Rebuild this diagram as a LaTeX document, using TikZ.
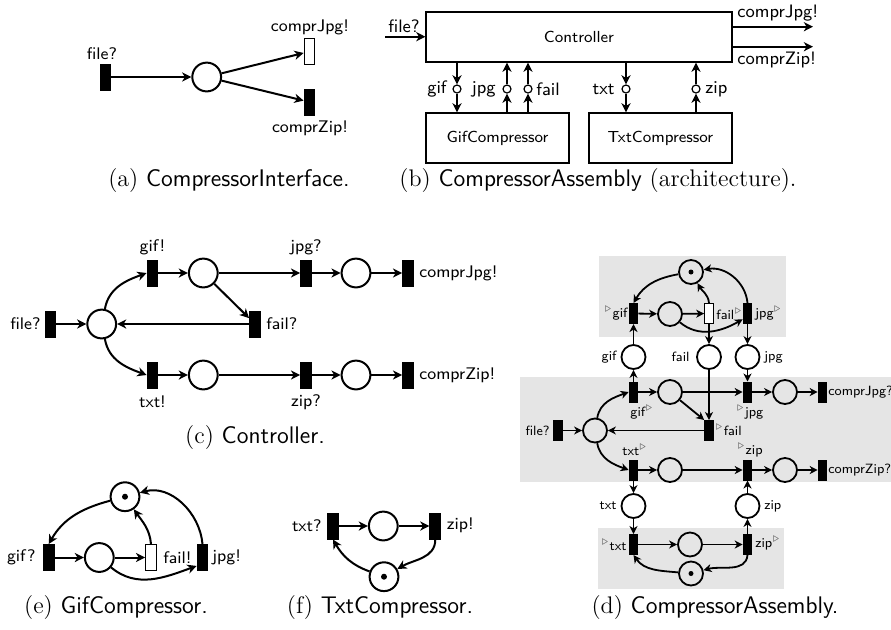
\documentclass[tikz,border=0pt]{standalone}
\usetikzlibrary{arrows.meta,calc}
\newcommand{\trr}{\ensuremath{{}^{\textcolor{black!65}{\scriptscriptstyle\triangleright}}}}
\begin{document}
\begin{tikzpicture}[x=0.5pt,y=0.5pt,
  lab/.style={font=\fontsize{8.4}{10}\selectfont\sffamily, inner sep=0pt},
  blab/.style={font=\fontsize{9}{11}\selectfont\sffamily, inner sep=0pt},
  dlab/.style={font=\fontsize{6.7}{8}\selectfont\sffamily, inner sep=0pt},
  captxt/.style={font=\fontsize{12}{14}\selectfont, inner sep=0pt},
  place/.style={circle, draw, line width=1pt, minimum size=14.4pt, inner sep=0pt},
  dplace/.style={place, line width=0.9pt, minimum size=12pt},
  trans/.style={rectangle, draw, fill=black, line width=0.5pt, minimum width=5.4pt, minimum height=13pt, inner sep=0pt},
  wtrans/.style={trans, fill=white},
  dtrans/.style={trans, minimum width=4.3pt, minimum height=10pt},
  dwtrans/.style={dtrans, fill=white},
  arc/.style={-{Stealth[length=4.6pt,width=4.6pt,inset=1.4pt]}, line width=1pt},
  darc/.style={-{Stealth[length=4pt,width=4pt,inset=1.2pt]}, line width=0.9pt},
  box/.style={rectangle, draw, line width=0.6pt, font=\fontsize{8}{10}\selectfont\sffamily, inner sep=0pt},
  port/.style={circle, draw, line width=0.6pt, minimum size=4pt, inner sep=0pt},
  graybg/.style={fill=black!10},
]
\useasboundingbox (0,0) rectangle (891,-629);

% ---------------- (a)
\node[trans] (aF) at (105.5,-77) {};
\node[lab] (aFl) at (102,-54) {file?};
\node[place] (aP) at (206.7,-77) {};
\node[wtrans] (aJ) at (309.5,-51.5) {};
\node[trans] (aZ) at (309.5,-102) {};
\node[lab] (aJl) at (310,-27) {comprJpg!};
\node[lab] (aZl) at (310,-128) {comprZip!};
\draw[arc] (aF) -- (aP);
\draw[arc] (aP) -- (aJ);
\draw[arc] (aP) -- (aZ);
\node[captxt] (capa) at (229,-181) {(a) \textsf{CompressorInterface.}};

% ---------------- (b)
\node[box, minimum width=153pt, minimum height=25pt] (ctrl) at (579,-37) {Controller};
\node[box, minimum width=71.5pt, minimum height=25pt] (gifc) at (497.5,-138) {GifCompressor};
\node[box, minimum width=71.5pt, minimum height=25pt] (txtc) at (660.5,-138) {TxtCompressor};
\node[port] (pgif) at (457,-89) {};
\node[port] (pjpg) at (507,-89) {};
\node[port] (pfail) at (528,-89) {};
\node[port] (ptxt) at (626,-89) {};
\node[port] (pzip) at (696,-89) {};
\draw[arc] (pgif |- ctrl.south) -- (pgif);
\draw[arc] (pgif) -- (pgif |- gifc.north);
\draw[arc] (pjpg |- gifc.north) -- (pjpg);
\draw[arc] (pjpg) -- (pjpg |- ctrl.south);
\draw[arc] (pfail |- gifc.north) -- (pfail);
\draw[arc] (pfail) -- (pfail |- ctrl.south);
\draw[arc] (ptxt |- ctrl.south) -- (ptxt);
\draw[arc] (ptxt) -- (ptxt |- txtc.north);
\draw[arc] (pzip |- txtc.north) -- (pzip);
\draw[arc] (pzip) -- (pzip |- ctrl.south);
\node[blab, anchor=east] (lgif) at (447,-89) {gif};
\node[blab, anchor=east] (ljpg) at (496,-89) {jpg};
\node[blab, anchor=west] (lfail) at (536,-89) {fail};
\node[blab, anchor=east] (ltxt) at (615,-89) {txt};
\node[blab, anchor=west] (lzip) at (705,-89) {zip};
\coordinate (bin) at (385,-36.7);
\draw[arc] (bin) -- (bin -| ctrl.west);
\node[blab] (bfl) at (404,-26) {file?};
\coordinate (bjo) at (813,-26.7);
\draw[arc] (bjo -| ctrl.east) -- (bjo);
\coordinate (bzo) at (813,-46.7);
\draw[arc] (bzo -| ctrl.east) -- (bzo);
\node[blab, anchor=west] (bjl) at (737,-13) {comprJpg!};
\node[blab, anchor=west] (bzl) at (737,-60) {comprZip!};
\node[captxt] (capb) at (598,-181) {(b) \textsf{CompressorAssembly} (architecture).};

% ---------------- (c)
\node[trans] (cF) at (50.5,-324) {};
\node[lab, anchor=east] (cFl) at (41,-324) {file?};
\node[place] (c0) at (101.7,-324) {};
\node[trans] (cG) at (152.5,-273) {};
\node[lab] (cGl) at (152.5,-247) {gif!};
\node[place] (c1) at (203.3,-273) {};
\node[trans] (cJ) at (306,-273) {};
\node[lab] (cJl) at (306,-247) {jpg?};
\node[place] (c2) at (356,-273) {};
\node[trans] (cCJ) at (408,-273) {};
\node[lab, anchor=west] (cCJl) at (419,-273) {comprJpg!};
\node[trans] (cX) at (255,-324) {};
\node[lab, anchor=west] (cXl) at (266,-324) {fail?};
\node[trans] (cT) at (152.5,-375) {};
\node[lab] (cTl) at (152.5,-402) {txt!};
\node[place] (c3) at (203.3,-375) {};
\node[trans] (cZ) at (306,-375) {};
\node[lab] (cZl) at (306,-402) {zip?};
\node[place] (c4) at (356,-375) {};
\node[trans] (cCZ) at (408,-375) {};
\node[lab, anchor=west] (cCZl) at (419,-375) {comprZip!};
\draw[arc] (cF) -- (c0);
\draw[arc] (c0.78) to[out=80,in=200] (cG.west);
\draw[arc] (cG) -- (c1);
\draw[arc] (c1) -- (cJ);
\draw[arc] (cJ) -- (c2);
\draw[arc] (c2) -- (cCJ);
\draw[arc] (c1) -- (cX.135);
\draw[arc] (cX) -- (c0);
\draw[arc] (c0.-78) to[out=-80,in=160] (cT.west);
\draw[arc] (cT) -- (c3);
\draw[arc] (c3) -- (cZ);
\draw[arc] (cZ) -- (c4);
\draw[arc] (c4) -- (cCZ);
\node[captxt] (capc) at (255,-438) {(c) \textsf{Controller.}};

% ---------------- (d)
\fill[graybg] (599,-256) rectangle (786,-337);
\fill[graybg] (520,-377) rectangle (891,-482);
\fill[graybg] (598,-528) rectangle (784,-589);
% top (gif compressor)
\node[dplace] (dTok1) at (691,-272) {};
\fill (dTok1) circle (1.25pt);
\node[dtrans] (dGifIn) at (633.5,-313.5) {};
\node[dlab, anchor=east] (dGifInl) at (628,-314) {\trr gif};
\node[dplace] (dPa) at (670,-314) {};
\node[dwtrans] (dFailOut) at (709,-313.5) {};
\node[dlab, anchor=west] (dFailOutl) at (716,-314) {fail\trr};
\node[dtrans] (dJpgOut) at (747.5,-313.5) {};
\node[dlab, anchor=west] (dJpgOutl) at (755,-314) {jpg\trr};
% channel places
\node[dplace] (dgif) at (633.5,-357) {};
\node[dlab, anchor=east] (dgifl) at (617,-357) {gif};
\node[dplace] (dfail) at (709,-357) {};
\node[dlab, anchor=east] (dfaill) at (690,-357) {fail};
\node[dplace] (djpg) at (747.5,-357) {};
\node[dlab, anchor=west] (djpgl) at (764,-357) {jpg};
% controller
\node[dtrans] (dGifOut) at (633.5,-392) {};
\node[dlab] (dGifOutl) at (642,-413) {gif\trr};
\node[dplace] (dPc1) at (670,-392) {};
\node[dtrans] (dJpgIn) at (747.5,-392) {};
\node[dlab] (dJpgInl) at (750,-413) {\trr jpg};
\node[dplace] (dPc2) at (785,-392) {};
\node[dtrans] (dCJ) at (822.5,-392) {};
\node[dlab, anchor=west] (dCJl) at (828,-392) {comprJpg?};
\node[dtrans] (dFailIn) at (709,-430.5) {};
\node[dlab, anchor=west] (dFailInl) at (715,-430.5) {\trr fail};
\node[dtrans] (dFile) at (558,-430.5) {};
\node[dlab, anchor=east] (dFilel) at (550,-430.5) {file?};
\node[dplace] (dP0) at (595,-430.5) {};
\node[dtrans] (dTxtOut) at (633.5,-470) {};
\node[dlab] (dTxtOutl) at (635,-450) {txt\trr};
\node[dplace] (dPc3) at (670,-470) {};
\node[dtrans] (dZipIn) at (747.5,-470) {};
\node[dlab] (dZipInl) at (750,-450) {\trr zip};
\node[dplace] (dPc4) at (785,-470) {};
\node[dtrans] (dCZ) at (822.5,-470) {};
\node[dlab, anchor=west] (dCZl) at (828,-470) {comprZip?};
% channel places bottom
\node[dplace] (dtxt) at (633.5,-506) {};
\node[dlab, anchor=east] (dtxtl) at (617,-506) {txt};
\node[dplace] (dzip) at (747.5,-506) {};
\node[dlab, anchor=west] (dzipl) at (764,-506) {zip};
% bottom (txt compressor)
\node[dtrans] (dTxtIn) at (633.5,-544.5) {};
\node[dlab, anchor=east] (dTxtInl) at (627,-545) {\trr txt};
\node[dplace] (dPb) at (690,-544.5) {};
\node[dtrans] (dZipOut) at (747.5,-544.5) {};
\node[dlab, anchor=west] (dZipOutl) at (755,-543) {zip\trr};
\node[dplace] (dTok2) at (691,-573.5) {};
\fill (dTok2) circle (1.25pt);
% arcs top
\draw[darc] (dTok1) to[out=190,in=60] (dGifIn.north);
\draw[darc] (dFailOut.north) to[out=95,in=-60] (dTok1);
\draw[darc] (dJpgOut.north) to[out=95,in=10] (dTok1);
\draw[darc] (dGifIn) -- (dPa);
\draw[darc] (dPa) -- (dFailOut);
\draw[darc] (dPa) to[out=-40,in=210] (dJpgOut.-130);
\draw[darc] (dFailOut) -- (dfail);
\draw[darc] (dJpgOut) -- (djpg);
\draw[darc] (dgif) -- (dGifIn);
% arcs middle
\draw[darc] (dGifOut) -- (dgif);
\draw[darc] (dfail) -- (dFailIn);
\draw[darc] (djpg) -- (dJpgIn);
\draw[darc] (dGifOut) -- (dPc1);
\draw[darc] (dPc1) -- (dJpgIn);
\draw[darc] (dJpgIn) -- (dPc2);
\draw[darc] (dPc2) -- (dCJ);
\draw[darc] (dPc1) -- (dFailIn.north west);
\draw[darc] (dFile) -- (dP0);
\draw[darc] (dFailIn) -- (dP0);
\draw[darc] (dP0.80) to[out=80,in=200] (dGifOut.west);
\draw[darc] (dP0.-80) to[out=-80,in=160] (dTxtOut.west);
\draw[darc] (dTxtOut) -- (dPc3);
\draw[darc] (dPc3) -- (dZipIn);
\draw[darc] (dZipIn) -- (dPc4);
\draw[darc] (dPc4) -- (dCZ);
\draw[darc] (dTxtOut) -- (dtxt);
\draw[darc] (dtxt) -- (dTxtIn);
\draw[darc] (dZipOut) -- (dzip);
\draw[darc] (dzip) -- (dZipIn);
% arcs bottom
\draw[darc] (dTxtIn) -- (dPb);
\draw[darc] (dPb) -- (dZipOut);
\draw[darc] (dZipOut.south) to[out=-95,in=15] (dTok2);
\draw[darc] (dTok2) to[out=175,in=-55] (dTxtIn.south);
\node[captxt] (capd) at (715,-607) {(d) \textsf{CompressorAssembly.}};

% ---------------- (e)
\node[place] (eTok) at (125,-496.7) {};
\fill (eTok) circle (1.5pt);
\node[trans] (eGif) at (48.7,-557.5) {};
\node[lab, anchor=east] (eGifl) at (36,-557.5) {gif?};
\node[place] (eP) at (99.3,-557.5) {};
\node[wtrans] (eFail) at (151,-557.5) {};
\node[lab, anchor=west] (eFaill) at (163,-557.5) {fail!};
\node[trans] (eJpg) at (202.5,-557.5) {};
\node[lab, anchor=west] (eJpgl) at (212,-557.5) {jpg!};
\draw[arc] (eTok) to[out=195,in=60] (eGif.north);
\draw[arc] (eGif) -- (eP);
\draw[arc] (eP) -- (eFail);
\draw[arc] (eFail.north) to[out=95,in=-55] (eTok);
\draw[arc] (eJpg.north) to[out=95,in=15] (eTok);
\draw[arc] (eP) to[out=-40,in=200] (eJpg.-125);
\node[captxt] (cape) at (116,-607) {(e) \textsf{GifCompressor.}};

% ---------------- (f)
\node[trans] (fTxt) at (333,-526) {};
\node[lab, anchor=east] (fTxtl) at (322,-526) {txt?};
\node[place] (fP) at (383.3,-526) {};
\node[trans] (fZip) at (435.3,-526) {};
\node[lab, anchor=west] (fZipl) at (446.5,-525) {zip!};
\node[place] (fTok) at (384,-576.7) {};
\fill (fTok) circle (1.5pt);
\draw[arc] (fTxt) -- (fP);
\draw[arc] (fP) -- (fZip);
\draw[arc] (fZip.south) to[out=-90,in=30] (fTok);
\draw[arc] (fTok) to[out=160,in=-60] (fTxt.south);
\node[captxt] (capf) at (380,-607) {(f) \textsf{TxtCompressor.}};
\end{tikzpicture}
\end{document}
